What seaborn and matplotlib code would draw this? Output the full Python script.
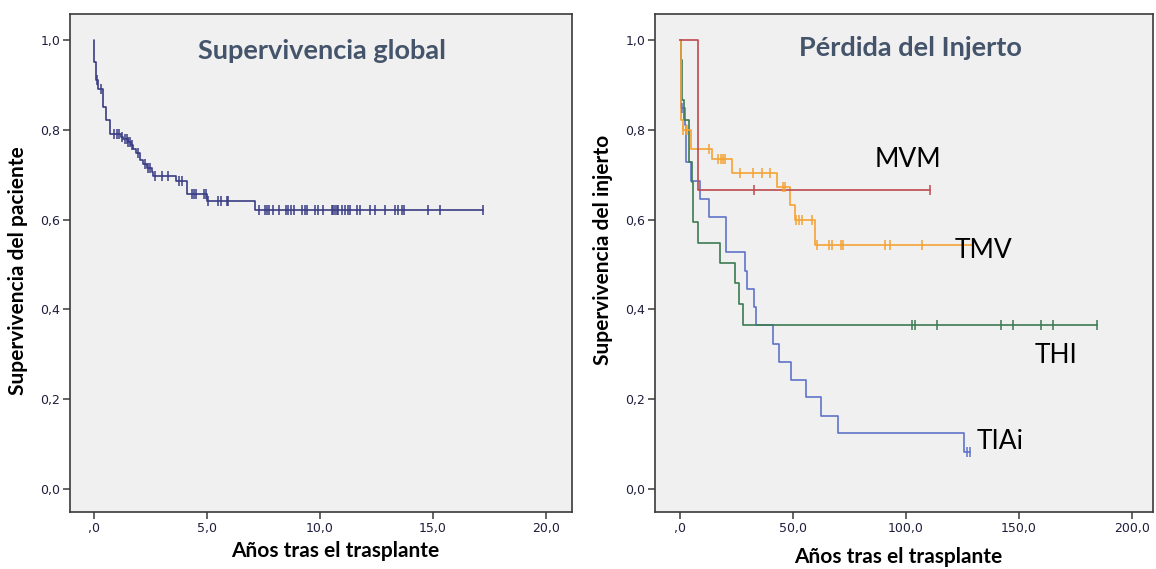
import numpy as np
import pandas as pd
import matplotlib
matplotlib.use("Agg")
import matplotlib.pyplot as plt
import seaborn as sns

# ---------------- data ----------------
# Left panel: overall survival (years)
glob_event_t = [0.02, 0.09, 0.16, 0.38, 0.52, 0.70, 1.18, 1.30, 1.49, 1.62, 1.74, 1.86,
                2.04, 2.18, 2.36, 2.55, 2.63, 3.63, 4.10, 4.98, 7.12]
glob_event_s = [0.952, 0.911, 0.892, 0.850, 0.822, 0.790, 0.785, 0.779, 0.773, 0.766, 0.757, 0.748,
                0.733, 0.724, 0.716, 0.707, 0.698, 0.687, 0.657, 0.642, 0.622]
glob_end = 17.23
glob_cens = [0.12, 0.30, 0.88, 1.03, 1.12, 1.25, 1.37, 1.45, 1.52, 1.59, 1.67, 1.93, 2.26, 2.40,
             2.48, 2.70, 3.00, 3.29, 3.78, 3.88, 4.32, 4.42, 4.51, 4.87, 4.96, 5.06, 5.50, 5.60,
             5.87, 5.94, 7.31, 7.57, 7.67, 7.76, 7.91, 8.20, 8.50, 8.60, 8.70, 8.85, 9.19, 9.34,
             9.44, 9.78, 9.93, 10.12, 10.52, 10.59, 10.66, 10.74, 10.81, 10.96, 11.11, 11.25,
             11.33, 11.62, 11.77, 12.21, 12.43, 12.88, 13.32, 13.46, 13.61, 13.72, 14.79, 15.31,
             17.23]

# Right panel: graft loss by group
mvm_event_t = [7.8]
mvm_event_s = [0.667]
mvm_end = 110.6
mvm_cens = [32.9, 110.6]

tmv_event_t = [0.6, 1.2, 4.7, 14.3, 23.2, 42.8, 48.7, 50.7, 59.7]
tmv_event_s = [0.822, 0.800, 0.757, 0.734, 0.705, 0.673, 0.633, 0.599, 0.543]
tmv_end = 129.0
tmv_cens = [1.5, 2.5, 3.2, 13.0, 17.0, 18.0, 18.9, 19.9, 26.5, 32.4, 36.4, 39.8, 45.4, 46.5,
            51.3, 52.7, 53.8, 58.5, 60.5, 66.1, 67.1, 71.2, 72.0, 90.7, 92.9, 106.9]

thi_event_t = [0.3, 0.9, 1.9, 3.9, 5.2, 5.6, 8.1, 17.7, 24.3, 26.3, 28.0]
thi_event_s = [0.955, 0.866, 0.822, 0.729, 0.684, 0.595, 0.549, 0.503, 0.458, 0.412, 0.366]
thi_end = 184.4
thi_cens = [102.5, 104.0, 113.6, 141.9, 147.2, 159.7, 165.2, 184.4]

tiai_event_t = [0.3, 0.6, 2.0, 2.8, 4.7, 8.7, 13.0, 20.5, 28.8, 29.5, 32.9, 33.6, 41.0,
                43.7, 49.1, 55.6, 62.2, 70.1, 125.8]
tiai_event_s = [0.880, 0.848, 0.810, 0.729, 0.687, 0.647, 0.607, 0.527, 0.486, 0.445, 0.405,
                0.365, 0.324, 0.284, 0.244, 0.204, 0.163, 0.124, 0.083]
tiai_end = 128.3
tiai_cens = [1.0, 126.8, 128.3]

group_names = ["MVM", "TMV", "THI", "TIAi"]
group_colors = ["#BE4A4E", "#F5A233", "#3B7A52", "#5F74C9"]
group_label_pos = [(86.3, 0.733), (121.7, 0.532), (157.0, 0.298), (131.4, 0.107)]

y_ticks = [0.0, 0.2, 0.4, 0.6, 0.8, 1.0]
y_tick_labels = ["0,0", "0,2", "0,4", "0,6", "0,8", "1,0"]
x_ticks_left = [0, 5, 10, 15, 20]
x_tick_labels_left = [",0", "5,0", "10,0", "15,0", "20,0"]
x_ticks_right = [0, 50, 100, 150, 200]
x_tick_labels_right = [",0", "50,0", "100,0", "150,0", "200,0"]


def km_frame(ev_t, ev_s, end):
    t = [0.0] + list(ev_t) + [end]
    s = [1.0] + list(ev_s) + [ev_s[-1]]
    return pd.DataFrame({"t": t, "s": s})


def cens_frame(ev_t, ev_s, cens):
    ev_t = np.asarray(ev_t)
    ev_s = np.asarray(ev_s)
    ys = []
    for c in cens:
        idx = np.searchsorted(ev_t, c, side="right") - 1
        ys.append(1.0 if idx < 0 else ev_s[idx])
    return pd.DataFrame({"t": cens, "s": ys})


# ---------------- style ----------------
sns.set_style("ticks")
plt.rcParams["font.family"] = ["DejaVu Sans"]

fig = plt.figure(figsize=(11.56, 5.69), dpi=100)
fig.patch.set_facecolor("white")

W, H = 1156, 569
def axrect(x0, y0, x1, y1):
    return [x0 / W, 1 - y1 / H, (x1 - x0) / W, (y1 - y0) / H]

axL = fig.add_axes(axrect(70, 14, 572, 512))
axR = fig.add_axes(axrect(655, 14, 1153, 512))

for ax in (axL, axR):
    ax.set_facecolor("#F0F0F0")
    for sp in ax.spines.values():
        sp.set_visible(True)
        sp.set_color("#3A3A3A")
        sp.set_linewidth(1.2)
    ax.tick_params(axis="both", direction="out", length=5, width=1.1, color="#3A3A3A",
                   labelsize=9, labelcolor="#1E1E3C", pad=2)
    ax.set_yticks(y_ticks)
    ax.set_yticklabels(y_tick_labels)
    ax.set_ylim(-0.051, 1.058)

# Left panel
dfL = km_frame(glob_event_t, glob_event_s, glob_end)
sns.lineplot(data=dfL, x="t", y="s", ax=axL, color="#3A3D85", linewidth=1.2,
             drawstyle="steps-post", estimator=None, sort=False)
cL = cens_frame(glob_event_t, glob_event_s, glob_cens)
sns.scatterplot(data=cL, x="t", y="s", ax=axL, marker="|", s=45, color="#3A3D85",
                linewidth=1.1, zorder=3)
axL.set_xlim(-1.06, 21.15)
axL.set_xticks(x_ticks_left)
axL.set_xticklabels(x_tick_labels_left)
axL.set_xlabel("")
axL.set_ylabel("")

# Right panel
groups = [
    (mvm_event_t, mvm_event_s, mvm_end, mvm_cens),
    (tmv_event_t, tmv_event_s, tmv_end, tmv_cens),
    (thi_event_t, thi_event_s, thi_end, thi_cens),
    (tiai_event_t, tiai_event_s, tiai_end, tiai_cens),
]
order = [3, 2, 1, 0]
for i in order:
    et, es, end, cens = groups[i]
    df = km_frame(et, es, end)
    sns.lineplot(data=df, x="t", y="s", ax=axR, color=group_colors[i], linewidth=1.2,
                 drawstyle="steps-post", estimator=None, sort=False)
    cf = cens_frame(et, es, cens)
    sns.scatterplot(data=cf, x="t", y="s", ax=axR, marker="|", s=45, color=group_colors[i],
                    linewidth=1.1, zorder=3)
for name, (tx, ty) in zip(group_names, group_label_pos):
    axR.text(tx, ty, name, ha="left", va="center", fontsize=19, family="Lato", color="black")
axR.set_xlim(-11.06, 209.3)
axR.set_xticks(x_ticks_right)
axR.set_xticklabels(x_tick_labels_right)
axR.set_xlabel("")
axR.set_ylabel("")

# Titles
title_color = "#44546A"
axL.text(0.502, 0.925, "Supervivencia global", transform=axL.transAxes, ha="center",
         va="center", fontsize=19.5, fontweight="bold", family="Lato", color=title_color)
axR.text(0.512, 0.931, "Pérdida del Injerto", transform=axR.transAxes, ha="center",
         va="center", fontsize=19.5, fontweight="bold", family="Lato", color=title_color)

# Axis labels
lab_kw = dict(ha="center", va="center", fontsize=15, fontweight="bold", family="Lato",
              color="black")
fig.text(335 / W, 1 - 551 / H, "Años tras el trasplante", **lab_kw)
fig.text(898 / W, 1 - 557 / H, "Años tras el trasplante", **lab_kw)
fig.text(18 / W, 1 - 271 / H, "Supervivencia del paciente", rotation=90, **lab_kw)
fig.text(603 / W, 1 - 250 / H, "Supervivencia del injerto", rotation=90, **lab_kw)

fig.savefig("out.png", dpi=100, facecolor="white")
